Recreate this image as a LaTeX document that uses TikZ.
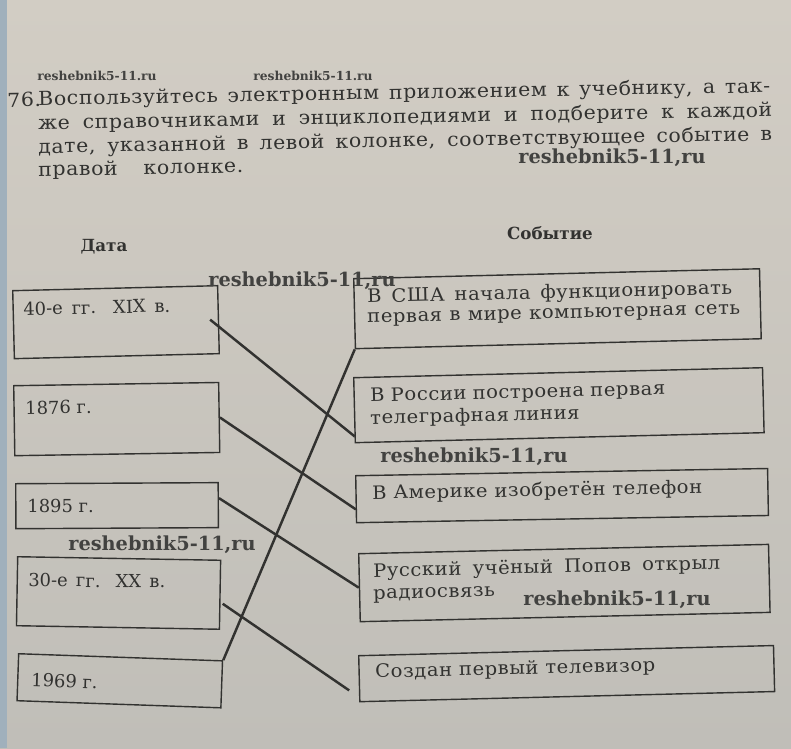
\documentclass[tikz,border=0pt]{standalone}
\usepackage{fontspec}
\setmainfont{DejaVu Serif}
\newfontfamily\bookfont[FakeStretch=1.06,LetterSpace=3]{DejaVu Serif}
\usetikzlibrary{calc}
\definecolor{paperhi}{RGB}{210,205,196}
\definecolor{paperlo}{RGB}{192,190,184}
\definecolor{ink}{RGB}{50,50,48}
\definecolor{wmark}{RGB}{66,66,64}
\definecolor{edge}{RGB}{160,176,188}
\newcommand{\fillline}[2]{\makebox[#1][s]{#2}}

\begin{document}
\begin{tikzpicture}[x=0.02cm, y=-0.02cm,
    txt/.style={anchor=west, inner sep=0pt, text=ink, rotate=1, font=\bookfont\fontsize{11}{13}\selectfont},
    boxtxt/.style={anchor=west, inner sep=0pt, text=ink, font=\bookfont\fontsize{10.5}{12}\selectfont},
    datetxt/.style={anchor=west, inner sep=0pt, text=ink, font=\fontsize{10.2}{12}\selectfont},
    hdr/.style={inner sep=0pt, text=ink, font=\bfseries\fontsize{9.5}{11}\selectfont},
    wmsmall/.style={inner sep=0pt, text=wmark, font=\bfseries\fontsize{7}{8}\selectfont},
    wm/.style={inner sep=0pt, text=wmark, font=\bfseries\fontsize{11}{13}\selectfont},
    cell/.style={draw=ink, line width=0.8pt, inner sep=0pt, anchor=north west},
    link/.style={draw=ink, line width=1.4pt}]
  \useasboundingbox (0,0) rectangle (791,748);
  \shade[top color=paperhi, bottom color=paperlo] (0,0) rectangle (791,748);
  \fill[edge] (0,0) rectangle (7,748);

  % task text
  \node[txt] (num) at (7,100) {76.};
  \node[txt] (p1) at (38,100) {\fillline{14.64cm}{Воспользуйтесь электронным приложением к учебнику, а так-}};
  \node[txt] (p2) at (38,124) {\fillline{14.68cm}{же справочниками и энциклопедиями и подберите к каждой}};
  \node[txt] (p3) at (38,148) {\fillline{14.68cm}{дате, указанной в левой колонке, соответствующее событие в}};
  \node[txt] (p4) at (38,171) {\fillline{4.1cm}{правой колонке.}};

  \node[hdr] (hdate) at (104,247) {Дата};
  \node[hdr] (hevent) at (550,233) {Событие};

  % left column
  \node[cell, rotate=1.4, minimum width=4.10cm, minimum height=1.36cm] (d1) at (12,290) {};
  \node[cell, rotate=0.9, minimum width=4.10cm, minimum height=1.40cm] (d2) at (13,385) {};
  \node[cell, rotate=0.3, minimum width=4.05cm, minimum height=0.90cm] (d3) at (15,483) {};
  \node[cell, rotate=-1, minimum width=4.06cm, minimum height=1.38cm] (d4) at (17,556) {};
  \node[cell, rotate=-2, minimum width=4.08cm, minimum height=0.94cm] (d5) at (18,653) {};
  \node[datetxt, rotate=1.4] (d1t) at (23,309) {\fillline{2.94cm}{40-е гг. XIX в.}};
  \node[datetxt, rotate=0.9] (d2t) at (25,408) {1876 г.};
  \node[datetxt] (d3t) at (27,506) {1895 г.};
  \node[datetxt, rotate=-0.5] (d4t) at (28,580) {\fillline{2.74cm}{30-е гг. XX в.}};
  \node[datetxt, rotate=-2] (d5t) at (31,680) {1969 г.};

  % right column
  \node[cell, rotate=1.4, minimum width=8.12cm, minimum height=1.40cm] (r1) at (353,278) {};
  \node[cell, rotate=1.4, minimum width=8.18cm, minimum height=1.30cm] (r2) at (353,377) {};
  \node[cell, rotate=1, minimum width=8.24cm, minimum height=0.94cm] (r3) at (355,475) {};
  \node[cell, rotate=1.3, minimum width=8.20cm, minimum height=1.36cm] (r4) at (358,553) {};
  \node[cell, rotate=1.4, minimum width=8.30cm, minimum height=0.92cm] (r5) at (358,655) {};
  \node[boxtxt, rotate=1.4] (r1a) at (367,298) {\fillline{7.3cm}{В США начала функционировать}};
  \node[boxtxt, rotate=1.4] (r1b) at (367,320) {\fillline{7.46cm}{первая в мире компьютерная сеть}};
  \node[boxtxt, rotate=1.4] (r2a) at (370,397) {\fillline{5.9cm}{В России построена первая}};
  \node[boxtxt, rotate=1.4] (r2b) at (370,419) {\fillline{4.16cm}{телеграфная линия}};
  \node[boxtxt, rotate=1] (r3a) at (372,494) {\fillline{6.6cm}{В Америке изобретён телефон}};
  \node[boxtxt, rotate=1.3] (r4a) at (373,572) {\fillline{6.94cm}{Русский учёный Попов открыл}};
  \node[boxtxt, rotate=1.3] (r4b) at (373,596) {радиосвязь};
  \node[boxtxt, rotate=1.4] (r5a) at (375,673) {\fillline{5.6cm}{Создан первый телевизор}};

  % answers
  \draw[link] ($(d1.east)+(-9,0)$) -- ($(r2.south west)+(0,-7)$);
  \draw[link] (d2.east) -- ($(r3.south west)+(0,-14)$);
  \draw[link] ($(d3.east)+(0,-7)$) -- (r4.west);
  \draw[link] ($(d4.east)+(2,9)$) -- ($(r5.south west)+(-10,-12)$);
  \draw[link] (d5.north east) -- (r1.south west);

  % watermarks
  \node[wmsmall] (w1) at (97,76) {reshebnik5-11.ru};
  \node[wmsmall] (w2) at (313,76) {reshebnik5-11.ru};
  \node[wm] (w3) at (612,158) {reshebnik5-11,ru};
  \node[wm] (w4) at (302,281) {reshebnik5-11,ru};
  \node[wm] (w5) at (474,457) {reshebnik5-11,ru};
  \node[wm] (w6) at (162,545) {reshebnik5-11,ru};
  \node[wm] (w7) at (617,600) {reshebnik5-11,ru};
\end{tikzpicture}
\end{document}
